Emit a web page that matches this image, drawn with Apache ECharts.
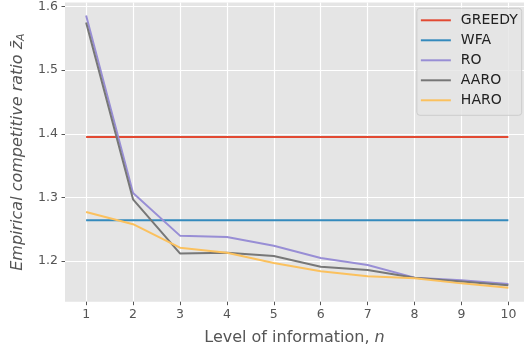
<!DOCTYPE html>
<html><head><meta charset="utf-8">
<script src="https://cdn.jsdelivr.net/npm/echarts@6/dist/echarts.min.js"></script>
<style>html,body{margin:0;padding:0;background:#fff}#c{width:524px;height:352px}</style>
</head><body><div id="c"></div>
<script>
const levels = [1,2,3,4,5,6,7,8,9,10];
const greedy = [1.395,1.395,1.395,1.395,1.395,1.395,1.395,1.395,1.395,1.395];
const wfa = [1.264,1.264,1.264,1.264,1.264,1.264,1.264,1.264,1.264,1.264];
const ro = [1.586,1.307,1.240,1.238,1.224,1.205,1.194,1.174,1.170,1.164];
const aaro = [1.575,1.297,1.212,1.213,1.208,1.191,1.186,1.174,1.168,1.162];
const haro = [1.277,1.258,1.221,1.213,1.197,1.184,1.176,1.173,1.165,1.158];
const xTicks = [1,2,3,4,5,6,7,8,9,10];
const yTicks = [1.2,1.3,1.4,1.5,1.6];

const names = ['GREEDY','WFA','RO','AARO','HARO'];
const colors = ['#E24A33','#348ABD','#988ED5','#777777','#FBC15E'];
const datas = [greedy,wfa,ro,aaro,haro];

const chart = echarts.init(document.getElementById('c'), null, {renderer:'canvas'});
const font = 'DejaVu Sans';
chart.setOption({
  animation:false,
  textStyle:{fontFamily:font},
  grid:{left:65,right:0,top:2,bottom:50.3,show:true,backgroundColor:'#E5E5E5',borderWidth:0},
  legend:{
    right:2.3, top:8.3, orient:'vertical',
    backgroundColor:'rgba(229,229,229,0.8)', borderColor:'#CCCCCC', borderWidth:1, borderRadius:3,
    padding:[5,4,8,4], itemWidth:30, itemHeight:14, itemGap:6,
    textStyle:{fontFamily:font,fontSize:14,color:'#222',padding:[0,0,0,5]},
    icon:'path://M0,5 L30,5 L30,7 L0,7 Z',
    data:names
  },
  xAxis:{
    type:'value', min:0.55, max:10.333,
    name:'Level of information, {i|n}', nameLocation:'middle', nameGap:28,
    nameTextStyle:{fontFamily:font,fontSize:16,color:'#555',rich:{i:{fontStyle:'italic',fontSize:16,color:'#555',fontFamily:font}}},
    axisLine:{show:false},
    axisTick:{show:true,length:3.5,lineStyle:{color:'#555',width:1},customValues:xTicks},
    axisLabel:{fontSize:12.5,color:'#555',margin:7,customValues:xTicks,formatter:v=>String(v)},
    splitLine:{show:true,lineStyle:{color:'#FFFFFF',width:1.2}}
  },
  yAxis:{
    type:'value', min:1.1362, max:1.6063,
    name:'{t|Empirical competitive ratio z̄}{s|A}', nameLocation:'middle', nameGap:38, nameRotate:90,
    nameTextStyle:{rich:{t:{fontStyle:'italic',fontSize:16,color:'#555',fontFamily:font},s:{fontStyle:'italic',fontSize:11,color:'#555',fontFamily:font,verticalAlign:'bottom',padding:[7,0,0,0]}}},
    axisLine:{show:false},
    axisTick:{show:true,length:3.5,lineStyle:{color:'#555',width:1},customValues:yTicks},
    axisLabel:{fontSize:12.5,color:'#555',margin:7,customValues:yTicks,formatter:v=>v.toFixed(1)},
    splitLine:{show:true,lineStyle:{color:'#FFFFFF',width:1.2}}
  },
  series: names.map((n,i)=>({
    name:n, type:'line', showSymbol:false, symbol:'none',
    data: levels.map((x,j)=>[x,datas[i][j]]),
    lineStyle:{color:colors[i],width:2}, itemStyle:{color:colors[i]},
    z: 2+i
  }))
});
</script></body></html>
